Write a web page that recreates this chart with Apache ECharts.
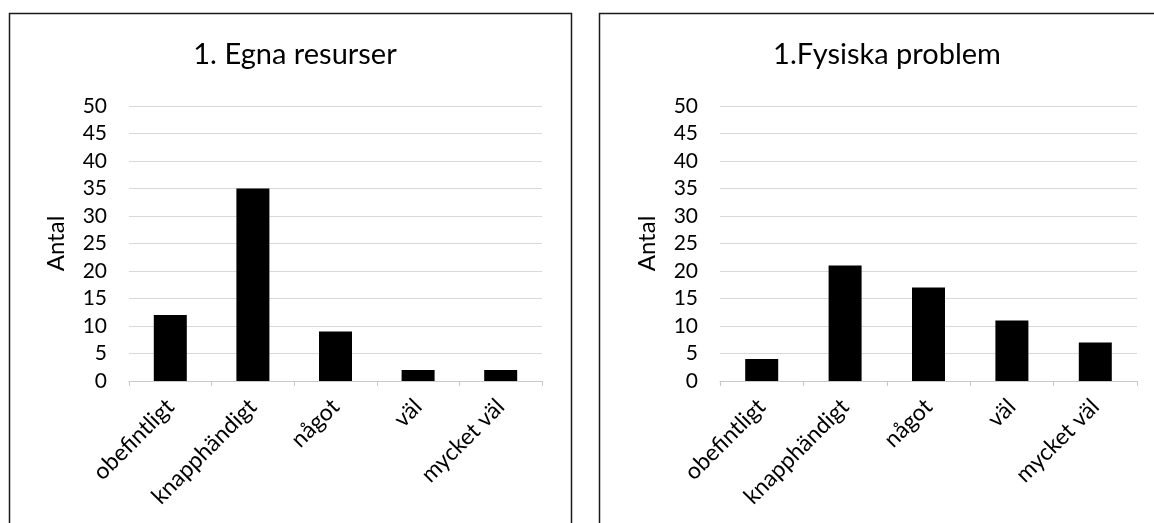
<!DOCTYPE html>
<html>
<head>
<meta charset="utf-8">
<script src="https://cdn.jsdelivr.net/npm/echarts@6/dist/echarts.min.js"></script>
<style>
  html, body { margin: 0; padding: 0; background: #fff; }
  #chart { width: 1154px; height: 523px; }
</style>
</head>
<body>
<div id="chart"></div>
<script>
// Response categories shared by both panels
const categories = ['obefintligt', 'knapphändigt', 'något', 'väl', 'mycket väl'];

// Counts per category
const egnaResurser = [12, 35, 9, 2, 2];
const fysiskaProblem = [4, 21, 17, 11, 7];

// Panel titles and value-axis name
const titles = ['1. Egna resurser', '1.Fysiska problem'];
const yAxisName = 'Antal';

const FONT = 'Lato, "Open Sans", sans-serif';

function valueAxis(gridIndex) {
  return {
    type: 'value',
    gridIndex: gridIndex,
    min: 0,
    max: 50,
    interval: 5,
    name: yAxisName,
    nameLocation: 'middle',
    nameGap: 61,
    nameRotate: 90,
    nameTextStyle: { color: '#000', fontSize: 24, fontFamily: FONT },
    axisLine: { show: false },
    axisTick: { show: false },
    axisLabel: { color: '#000', fontSize: 21, fontFamily: FONT, margin: 22 },
    splitLine: { lineStyle: { color: '#d9d9d9', width: 1 } }
  };
}

function categoryAxis(gridIndex) {
  return {
    type: 'category',
    gridIndex: gridIndex,
    data: categories,
    boundaryGap: true,
    axisLine: { lineStyle: { color: '#c8c8c8', width: 1 } },
    axisTick: { show: true, length: 5, alignWithLabel: false, lineStyle: { color: '#c8c8c8' } },
    axisLabel: { color: '#000', fontSize: 23, fontFamily: FONT, rotate: 45, margin: 22, interval: 0 }
  };
}

const chart = echarts.init(document.getElementById('chart'), null, { renderer: 'canvas' });

chart.setOption({
  backgroundColor: '#fff',
  animation: false,
  title: [
    { text: titles[0], left: 290, top: 35, textAlign: 'center',
      textStyle: { color: '#000', fontSize: 29, fontWeight: 'normal', fontFamily: FONT } },
    { text: titles[1], left: 882, top: 35, textAlign: 'center',
      textStyle: { color: '#000', fontSize: 29, fontWeight: 'normal', fontFamily: FONT } }
  ],
  graphic: [
    { type: 'rect', shape: { x: 9.5, y: 13.5, width: 562, height: 600 },
      style: { fill: null, stroke: '#1a1a1a', lineWidth: 1.5 }, silent: true },
    { type: 'rect', shape: { x: 599.5, y: 13.5, width: 564, height: 600 },
      style: { fill: null, stroke: '#1a1a1a', lineWidth: 1.5 }, silent: true }
  ],
  grid: [
    { left: 129, right: 612, top: 106, bottom: 142 },
    { left: 720, right: 17, top: 106, bottom: 142 }
  ],
  xAxis: [categoryAxis(0), categoryAxis(1)],
  yAxis: [valueAxis(0), valueAxis(1)],
  series: [
    { type: 'bar', xAxisIndex: 0, yAxisIndex: 0, data: egnaResurser,
      barWidth: 33, itemStyle: { color: '#000' } },
    { type: 'bar', xAxisIndex: 1, yAxisIndex: 1, data: fysiskaProblem,
      barWidth: 33, itemStyle: { color: '#000' } }
  ]
});
</script>
</body>
</html>
